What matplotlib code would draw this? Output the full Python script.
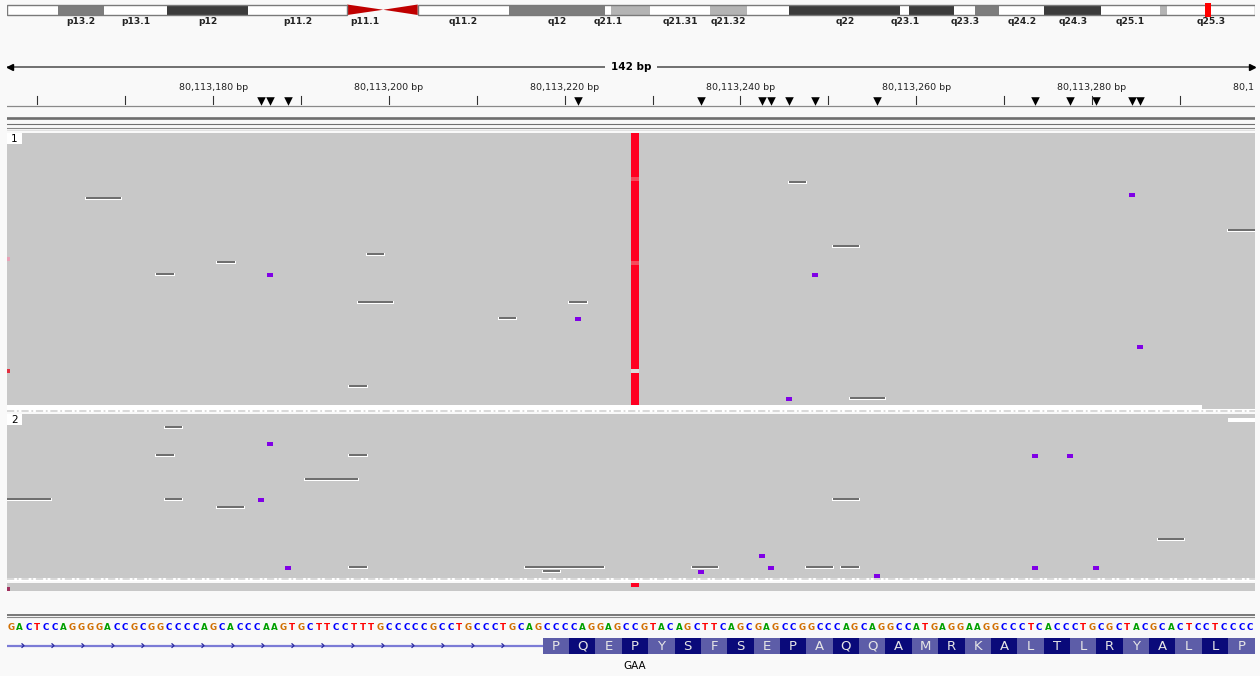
import numpy as np
import matplotlib.pyplot as plt
from matplotlib.patches import Rectangle, Polygon

# ---- view / layout (pixels) ----
FIG_W, FIG_H = 1260, 676
LEFT, RIGHT = 7, 1255
VIEW_START = 80113155.05
VIEW_BP = 142
PX = (RIGHT - LEFT) / VIEW_BP      # pixels per bp
TICK_SHIFT = -1.5                  # igv draws ruler ticks a little left of the base
def px(n):
    return n / PX                  # pixel width -> bp

# ---- chr17 ideogram (Mb) ----
chrom_len = 83.26
band_names = ["p13.3", "p13.2", "p13.1", "p12", "p11.2", "p11.1", "q11.1", "q11.2",
              "q12", "q21.1", "q21.2", "q21.31", "q21.32", "q21.33", "q22", "q23.1",
              "q23.2", "q23.3", "q24.1", "q24.2", "q24.3", "q25.1", "q25.2", "q25.3"]
band_starts = [0.0, 3.4, 6.5, 10.7, 16.1, 22.7, 25.1, 27.4, 33.5, 39.9, 40.3, 42.9,
               46.9, 49.4, 52.2, 59.6, 60.2, 63.2, 64.6, 66.2, 69.2, 73.0, 76.9, 77.4]
band_stains = ["gneg", "gpos50", "gneg", "gpos75", "gneg", "acen", "acen", "gneg",
               "gpos50", "gneg", "gpos25", "gneg", "gpos25", "gneg", "gpos75", "gneg",
               "gpos75", "gneg", "gpos50", "gneg", "gpos75", "gneg", "gpos25", "gneg"]
shown_labels = ["p13.2", "p13.1", "p12", "p11.2", "p11.1", "q11.2", "q12", "q21.1",
                "q21.31", "q21.32", "q22", "q23.1", "q23.3", "q24.2", "q24.3", "q25.1", "q25.3"]
locus_mb = 80.113

# ---- reference sequence / ruler ----
ref_seq = ("GACTCCAGGGGACCGCGGCCCCAGCACCCAAGTGCTTCCTTTGCCCCCGCCTGCCCTGCAGCCCCAGGAGC"
           "CGTACAGCTTCAGCGAGCCGGCCCAGCAGGCCATGAGGAAGGCCCTCACCCTGCGCTACGCACTCCTCCCC")
seq_start = 80113155
ruler_ticks = list(range(80113160, 80113300, 10))
ruler_labels = list(range(80113180, 80113301, 20))

# ---- gene ----
amino_acids = "PQEPYSFSEPAQQAMRKALTLRYALLP"
cds_start = 80113216
alt_codon = "GAA"
alt_codon_idx = 3

# ---- alignment groups ----
group_names = ["1", "2", ""]
group_rows = [69, 41, 2]
# empty stretches (group, row, start, end)
gap_group = [0, 1]
gap_row = [68, 1]
gap_start = [80113150, 80113294]
gap_end = [80113291, 80113300]

var_pos = 80113226
var_rows_g1 = [r for r in range(68) if r != 59]
var_lowq_g1 = [11, 32]
var_rows_g3 = [0]
edge_group = [0, 0, 2]
edge_row = [31, 59, 1]
edge_color = ["#e8a2b6", "#e23040", "#a0305e"]

del_group = [0] * 12 + [1] * 15
del_row = [16, 30, 32, 35, 42, 63, 12, 28, 42, 66, 46, 24,
           3, 10, 10, 16, 21, 21, 23, 38, 38, 39, 21, 31, 38, 38, 38]
del_start = [80113164, 80113196, 80113179, 80113172, 80113195, 80113194, 80113244,
             80113249, 80113219, 80113251, 80113211, 80113294,
             80113173, 80113172, 80113194, 80113189, 80113150, 80113173, 80113179,
             80113194, 80113214, 80113216, 80113249, 80113286, 80113233, 80113246, 80113250]
del_end = [80113168, 80113198, 80113181, 80113174, 80113199, 80113196, 80113246,
           80113252, 80113221, 80113255, 80113213, 80113297,
           80113175, 80113174, 80113196, 80113195, 80113160, 80113175, 80113182,
           80113196, 80113223, 80113218, 80113252, 80113289, 80113236, 80113249, 80113252]

ins_group = [0] * 6 + [1] * 11
ins_row = [35, 35, 46, 66, 15, 53, 7, 21, 38, 10, 10, 35, 39, 38, 40, 38, 38]
ins_pos = [80113185, 80113247, 80113220, 80113244, 80113283, 80113284,
           80113185, 80113184, 80113187, 80113272, 80113276, 80113241, 80113234,
           80113242, 80113254, 80113272, 80113279]

BG = "#f9f9f9"
READ = "#c8c8c8"
base_colors = {"A": "#00a000", "C": "#0000ff", "G": "#d17105", "T": "#ff0000"}
stain_colors = {"gneg": "white", "gpos25": "#b4b4b4", "gpos50": "#7d7d7d", "gpos75": "#3c3c3c"}

group_tops = [133, 414, 583]
ROW_H = 4

fig = plt.figure(figsize=(FIG_W / 100, FIG_H / 100), dpi=100, facecolor=BG)

# ================= ideogram =================
axi = fig.add_axes([LEFT / FIG_W, 1 - 28 / FIG_H, (RIGHT - LEFT) / FIG_W, 28 / FIG_H])
axi.set_xlim(0, chrom_len)
axi.set_ylim(28, 0)
axi.axis("off")
band_ends = band_starts[1:] + [chrom_len]
y0, y1 = 4.5, 15
ymid = (y0 + y1) / 2
for name, s, e, st in zip(band_names, band_starts, band_ends, band_stains):
    if st == "acen":
        if name.startswith("p"):
            pts = [(s, y0), (s, y1), (e, ymid)]
        else:
            pts = [(s, ymid), (e, y0), (e, y1)]
        axi.add_patch(Polygon(pts, closed=True, color="#c00000", lw=0))
    else:
        axi.add_patch(Rectangle((s, y0), e - s, y1 - y0, facecolor=stain_colors[st],
                                edgecolor="none"))
    if name in shown_labels:
        axi.text((s + e) / 2, 21.5, name, ha="center", va="center", fontsize=6.6,
                 fontweight="bold", color="#222222")
cen_s = band_starts[band_stains.index("acen")]
cen_e = band_ends[len(band_stains) - 1 - band_stains[::-1].index("acen")]
for s, e in [(0, cen_s), (cen_e, chrom_len)]:
    axi.add_patch(Rectangle((s, y0), e - s, y1 - y0, facecolor="none",
                            edgecolor="#7a7a7a", lw=1))
mb_px = (RIGHT - LEFT) / chrom_len
axi.add_patch(Rectangle((locus_mb - 3 / mb_px, 2.7), 6 / mb_px, 14, color="#ff0000", lw=0))

# ================= main tracks =================
ax = fig.add_axes([LEFT / FIG_W, 0, (RIGHT - LEFT) / FIG_W, 1])
ax.set_xlim(VIEW_START, VIEW_START + VIEW_BP)
ax.set_ylim(FIG_H, 0)
ax.axis("off")
x0v, x1v = VIEW_START, VIEW_START + VIEW_BP

# span arrow
ax.plot([x0v, x1v], [66.7, 66.7], color="#707070", lw=1.4, solid_capstyle="butt")
ax.plot([x0v + px(3)], [66.7], marker="<", color="black", ms=5, clip_on=False)
ax.plot([x1v - px(3)], [66.7], marker=">", color="black", ms=5, clip_on=False)
ax.text((x0v + x1v) / 2, 66.7, f"{VIEW_BP} bp", ha="center", va="center",
        fontsize=7.5, fontweight="bold", color="black",
        bbox=dict(facecolor=BG, edgecolor="none", pad=4))

# ruler
for t in ruler_ticks:
    ax.plot([t + TICK_SHIFT] * 2, [96, 104], color="#333333", lw=0.8)
for t in ruler_labels:
    lab = ax.text(t + TICK_SHIFT, 88, f"{t:,} bp", ha="center", va="center",
                  fontsize=6.8, color="#222222")
    lab.set_clip_box(ax.bbox)
    lab.set_clip_on(True)
for p in sorted(set(ins_pos)):
    ax.scatter([p], [100.5], marker="v", s=38, color="black", lw=0)
ax.plot([x0v, x1v], [106, 106], color="#8a8a8a", lw=0.9)

# separator lines above alignments
ax.plot([x0v, x1v], [118, 118], color="#6e6e6e", lw=1.9)
ax.plot([x0v, x1v], [124.3, 124.3], color="#707070", lw=0.8)
ax.plot([x0v, x1v], [128.3, 128.3], color="#888888", lw=0.8)
ax.plot([x0v, x1v], [129.6, 129.6], color="#dddddd", lw=0.6)

def row_y(g, r):
    return group_tops[g] + r * ROW_H

# read groups
for g, n in enumerate(group_rows):
    ax.add_patch(Rectangle((x0v, group_tops[g]), VIEW_BP, n * ROW_H, color=READ, lw=0))
for g, r, s, e in zip(gap_group, gap_row, gap_start, gap_end):
    ax.add_patch(Rectangle((s, row_y(g, r)), e - s, ROW_H, color="white", lw=0))

# group separators
for y in [410.8, 579.3]:
    ax.add_patch(Rectangle((x0v, y - 1.6), VIEW_BP, 3.2, color="white", lw=0))
    ax.plot([x0v, x1v], [y, y], color="#d6d6d6", lw=1.3, dashes=(4, 1.5, 1, 1.5))

# group labels
for g, name in enumerate(group_names):
    if name:
        ax.add_patch(Rectangle((x0v, group_tops[g]), px(15), 11, color="white", lw=0))
        ax.text(x0v + px(4), group_tops[g] + 5.8, name, ha="left", va="center",
                fontsize=7.5, color="black")

# variant column
for r in var_rows_g1:
    c = "#f6495c" if r in var_lowq_g1 else "#ff0022"
    ax.add_patch(Rectangle((var_pos, row_y(0, r)), 1, ROW_H, color=c, lw=0))
ax.add_patch(Rectangle((var_pos, row_y(0, 59)), 1, ROW_H, color="#dcdcdc", lw=0))
for r in var_rows_g3:
    ax.add_patch(Rectangle((var_pos, row_y(2, r)), 1, ROW_H, color="#ff0022", lw=0))
for g, r, c in zip(edge_group, edge_row, edge_color):
    ax.add_patch(Rectangle((x0v, row_y(g, r)), px(2.5), ROW_H, color=c, lw=0))

# deletions
for g, r, s, e in zip(del_group, del_row, del_start, del_end):
    y = row_y(g, r)
    ax.add_patch(Rectangle((s - px(1), y + 0.4), e - s + px(2), 3.0, color="white", lw=0))
    ax.add_patch(Rectangle((s, y + 0.4), e - s, 1.9, color="#6f6f6f", lw=0))

# insertions
for g, r, p in zip(ins_group, ins_row, ins_pos):
    ax.add_patch(Rectangle((p - px(3), row_y(g, r)), px(6), ROW_H, color="#8000e6", lw=0))

# sequence track
ax.plot([x0v, x1v], [615, 615], color="#6e6e6e", lw=1.3)
ax.plot([x0v, x1v], [617.4, 617.4], color="#8a8a8a", lw=0.8)
for i, b in enumerate(ref_seq):
    ax.text(seq_start + i + 0.5, 628, b, ha="center", va="center", fontsize=6.3,
            fontweight="bold", color=base_colors[b])

# gene track
ax.plot([x0v, cds_start], [645.6, 645.6], color="#7b7bd6", lw=1.6, solid_capstyle="butt")
for c in np.arange(x0v + px(16), cds_start - px(10), px(30)):
    ax.plot([c - px(1), c + px(1), c - px(1)], [643.8, 645.6, 647.4],
            color="#2a2a9e", lw=0.9)
for i, aa in enumerate(amino_acids):
    s = cds_start + 3 * i
    col = "#5d5da8" if i % 2 == 0 else "#0a0a7a"
    ax.add_patch(Rectangle((s, 638), 3, 15.5, color=col, lw=0))
    ax.text(s + 1.5, 646, aa, ha="center", va="center", fontsize=9.5, color="#e6e6e6",
            clip_on=True)
ax.text(cds_start + 3 * alt_codon_idx + 1.5, 666, alt_codon, ha="center", va="center",
        fontsize=7.5, color="black")

fig.savefig("out.png", dpi=100, facecolor=BG)
